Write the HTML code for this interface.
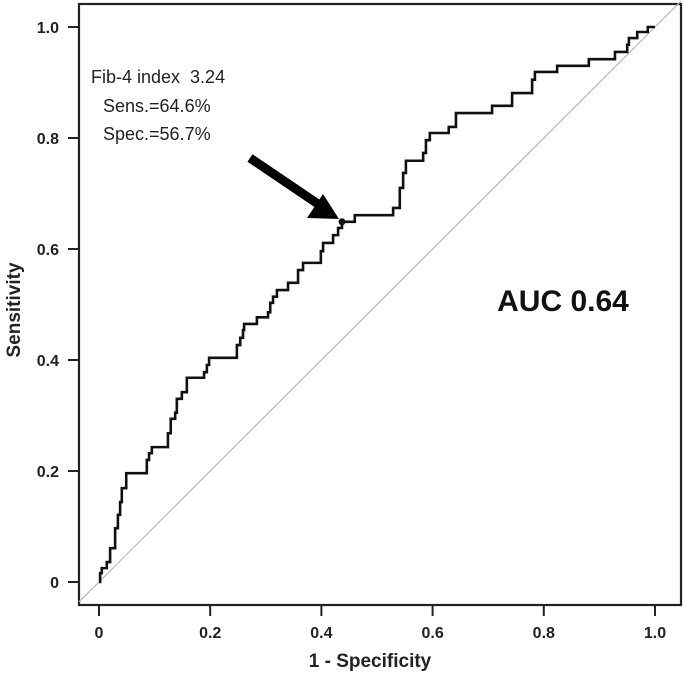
<!DOCTYPE html>
<html><head><meta charset="utf-8"><style>
body{margin:0;background:#fff;}
svg{display:block;font-family:"Liberation Sans",Arial,sans-serif;}
</style></head><body>
<svg id="chart" width="685" height="675" xmlns="http://www.w3.org/2000/svg">
<rect x="79" y="4" width="602" height="601" fill="none" stroke="#222" stroke-width="2.2"/>
<g id="axes"></g>
<line id="diag" stroke="#b8b8b8" stroke-width="1.2"/>
<path id="roc" fill="none" stroke="#111" stroke-width="2.6"/>
<circle id="cut" r="3.5" fill="#111"/>
<text x="91" y="83" font-size="18" fill="#222">Fib-4 index&#160; 3.24</text>
<text x="103" y="112" font-size="18" fill="#222">Sens.=64.6%</text>
<text x="103" y="140" font-size="18" fill="#222">Spec.=56.7%</text>
<g>
<line x1="250" y1="158" x2="318" y2="204" stroke="#000" stroke-width="9"/>
<polygon points="339,219 307,218 323,194" fill="#000"/>
</g>
<text x="563" y="311" font-size="30" font-weight="bold" text-anchor="middle" fill="#111">AUC 0.64</text>
<text x="370" y="667" font-size="19" font-weight="bold" text-anchor="middle" fill="#222">1 - Specificity</text>
<text transform="translate(20,310) rotate(-90)" font-size="19" font-weight="bold" text-anchor="middle" fill="#222">Sensitivity</text>
</svg>
<script>
const fpr=[0,0.002,0.005,0.014,0.020,0.029,0.034,0.038,0.041,0.049,0.086,0.090,0.095,0.124,0.129,0.137,0.140,0.149,0.158,0.189,0.194,0.198,0.248,0.254,0.259,0.261,0.284,0.304,0.308,0.313,0.320,0.340,0.358,0.367,0.399,0.403,0.421,0.430,0.437,0.460,0.529,0.541,0.547,0.552,0.583,0.588,0.595,0.629,0.642,0.707,0.743,0.779,0.784,0.824,0.881,0.928,0.950,0.953,0.968,0.987,1.0];
const tpr=[0,0.016,0.025,0.036,0.061,0.097,0.121,0.144,0.169,0.196,0.220,0.232,0.243,0.268,0.294,0.305,0.330,0.342,0.368,0.378,0.391,0.404,0.427,0.440,0.454,0.465,0.477,0.486,0.503,0.514,0.526,0.539,0.562,0.575,0.596,0.611,0.625,0.638,0.649,0.661,0.674,0.710,0.737,0.759,0.773,0.796,0.809,0.820,0.845,0.858,0.881,0.905,0.919,0.930,0.942,0.955,0.968,0.980,0.991,1.0,1.0];
const ticks=[0,0.2,0.4,0.6,0.8,1.0];
const tickLabels=["0","0.2","0.4","0.6","0.8","1.0"];
const cutoff=[0.437,0.649];
const X=v=>99+v*556, Y=v=>582-v*555;
const ns="http://www.w3.org/2000/svg";
const ax=document.getElementById('axes');
function mk(t,a){const e=document.createElementNS(ns,t);for(const k in a)e.setAttribute(k,a[k]);ax.appendChild(e);return e;}
ticks.forEach((t,i)=>{
 let e=mk('line',{x1:X(t),x2:X(t),y1:605,y2:616,stroke:'#222','stroke-width':2});
 
 
 e=mk('text',{x:X(t),y:638,'font-size':16,'font-weight':'bold','text-anchor':'middle',fill:'#222'});
 e.textContent=tickLabels[i];
 
 
 e=mk('line',{x1:68,x2:79,y1:Y(t),y2:Y(t),stroke:'#222','stroke-width':2});
 
 
 e=mk('text',{x:59,y:Y(t)+6,'font-size':16,'font-weight':'bold','text-anchor':'end',fill:'#222'});
 e.textContent=tickLabels[i];
 
 
});
const dg=document.getElementById('diag');
dg.setAttribute('x1',X(-0.036));dg.setAttribute('y1',Y(-0.036));
dg.setAttribute('x2',681);dg.setAttribute('y2',Y((681-99)/556));
let d='M'+X(fpr[0])+','+Y(tpr[0]);
for(let i=1;i<fpr.length;i++){d+=' H'+X(fpr[i])+' V'+Y(tpr[i]);}
document.getElementById('roc').setAttribute('d',d);
const c=document.getElementById('cut');
c.setAttribute('cx',X(cutoff[0]));c.setAttribute('cy',Y(cutoff[1]));
</script>
</body></html>
